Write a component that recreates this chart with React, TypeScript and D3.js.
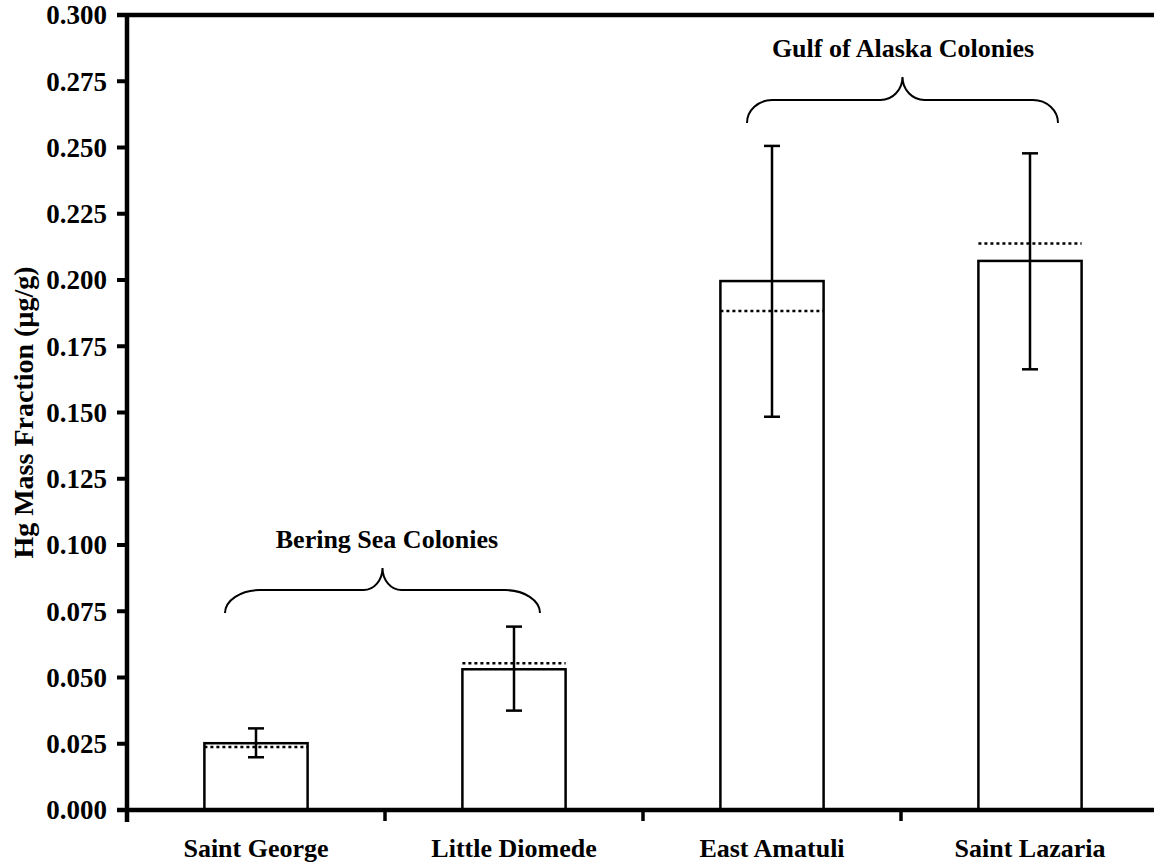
import React from "react";
import * as d3 from "d3";

const categories = ["Saint George", "Little Diomede", "East Amatuli", "Saint Lazaria"];
const meanValues = [0.0252, 0.0531, 0.1996, 0.2072];
const dottedValues = [0.0238, 0.0554, 0.1883, 0.2138];
const errLow = [0.0199, 0.0375, 0.1484, 0.1663];
const errHigh = [0.0308, 0.0692, 0.2506, 0.2478];
const yTicks = [0, 0.025, 0.05, 0.075, 0.1, 0.125, 0.15, 0.175, 0.2, 0.225, 0.25, 0.275, 0.3];
const groupLabels = ["Bering Sea Colonies", "Gulf of Alaska Colonies"];
const groupFrom = [0, 2];
const groupTo = [1, 3];
const groupEnd = [0.0743, 0.2592];
const groupMid = [0.083, 0.2679];
const groupTip = [0.0913, 0.2766];

const W = 1154;
const H = 864;
const FONT = "'Liberation Serif', 'Times New Roman', serif";

export default function App() {
  const x = d3.scaleBand<string>().domain(categories).range([127, 1159]).padding(0);
  const y = d3.scaleLinear().domain([0, 0.3]).range([810, 15]);
  const bw = x.bandwidth();
  const barW = bw * 0.4;
  const cx = (c: string) => (x(c) as number) + bw / 2;

  const braceOffsets = [
    { l: -31, r: 26, er: 35, tr: 19 },
    { l: -25, r: 28, er: 25, tr: 22 },
  ];

  const bracePath = (g: number) => {
    const o = braceOffsets[g];
    const x0 = cx(categories[groupFrom[g]]) + o.l;
    const x1 = cx(categories[groupTo[g]]) + o.r;
    const xt = (x0 + x1) / 2;
    const yE = y(groupEnd[g]);
    const yH = y(groupMid[g]);
    const yT = y(groupTip[g]);
    const ry = yE - yH;
    const ryt = yH - yT;
    return [
      `M${x0},${yE}`,
      `A${o.er},${ry} 0 0 1 ${x0 + o.er},${yH}`,
      `L${xt - o.tr},${yH}`,
      `A${o.tr},${ryt} 0 0 0 ${xt},${yT}`,
      `A${o.tr},${ryt} 0 0 0 ${xt + o.tr},${yH}`,
      `L${x1 - o.er},${yH}`,
      `A${o.er},${ry} 0 0 1 ${x1},${yE}`,
    ].join(" ");
  };

  return (
    <svg
      width={W}
      height={H}
      style={{ position: "absolute", left: 0, top: 0, background: "#fff" }}
      fontFamily={FONT}
      fontWeight="bold"
    >
      <rect x={0} y={0} width={W} height={H} fill="#fff" />
      {/* bars */}
      {categories.map((c, i) => {
        const xc = cx(c);
        return (
          <g key={c}>
            <rect
              x={xc - barW / 2}
              y={y(meanValues[i])}
              width={barW}
              height={y(0) - y(meanValues[i])}
              fill="#fff"
              stroke="#000"
              strokeWidth={2.5}
            />
            <line
              x1={xc - barW / 2}
              x2={xc + barW / 2}
              y1={y(dottedValues[i])}
              y2={y(dottedValues[i])}
              stroke="#000"
              strokeWidth={2.5}
              strokeDasharray="3,3"
            />
            <line x1={xc} x2={xc} y1={y(errLow[i])} y2={y(errHigh[i])} stroke="#000" strokeWidth={2.5} />
            <line x1={xc - 8} x2={xc + 8} y1={y(errLow[i])} y2={y(errLow[i])} stroke="#000" strokeWidth={2.5} />
            <line x1={xc - 8} x2={xc + 8} y1={y(errHigh[i])} y2={y(errHigh[i])} stroke="#000" strokeWidth={2.5} />
            <text x={xc} y={857} textAnchor="middle" fontSize={26}>
              {c}
            </text>
          </g>
        );
      })}
      {/* braces */}
      {groupLabels.map((lab, g) => {
        const x0 = cx(categories[groupFrom[g]]);
        const x1 = cx(categories[groupTo[g]]);
        return (
          <g key={lab}>
            <path d={bracePath(g)} fill="none" stroke="#000" strokeWidth={2} />
            <text x={(x0 + x1) / 2 + 2} y={y(groupTip[g]) - 20} textAnchor="middle" fontSize={26}>
              {lab}
            </text>
          </g>
        );
      })}
      {/* axes */}
      <line x1={127} x2={127} y1={13} y2={822} stroke="#000" strokeWidth={4.5} />
      <line x1={117} x2={1159} y1={15} y2={15} stroke="#000" strokeWidth={4.5} />
      <line x1={117} x2={1159} y1={810} y2={810} stroke="#000" strokeWidth={4.5} />
      {yTicks.map((t) => (
        <g key={t}>
          <line x1={117} x2={127} y1={y(t)} y2={y(t)} stroke="#000" strokeWidth={4} />
          <text x={107} y={y(t)} dy="0.35em" textAnchor="end" fontSize={27}>
            {t.toFixed(3)}
          </text>
        </g>
      ))}
      {categories.map((c) => (
        <line key={c} x1={x(c) as number} x2={x(c) as number} y1={810} y2={821} stroke="#000" strokeWidth={3.5} />
      ))}
      <text
        transform={`translate(33,${(y(0) + y(0.3)) / 2}) rotate(-90)`}
        textAnchor="middle"
        fontSize={28}
      >
        Hg Mass Fraction (µg/g)
      </text>
    </svg>
  );
}
